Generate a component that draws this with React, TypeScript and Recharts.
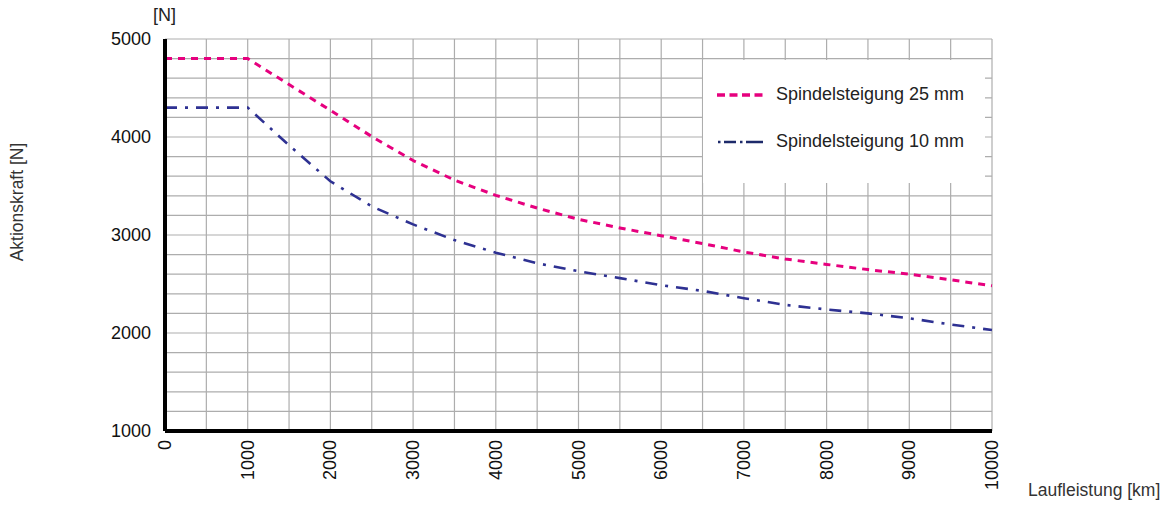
import { CartesianGrid, Legend, Line, LineChart, XAxis, YAxis } from "recharts";

const km = [0, 500, 1000, 1500, 2000, 2500, 3000, 3500, 4000, 4500, 5000, 5500, 6000, 6500, 7000, 7500, 8000, 8500, 9000, 9500, 10000];
const force25 = [4800, 4800, 4800, 4535, 4272, 4005, 3760, 3560, 3405, 3275, 3160, 3072, 2993, 2913, 2827, 2755, 2700, 2647, 2600, 2543, 2482];
const force10 = [4300, 4300, 4300, 3915, 3548, 3292, 3108, 2948, 2820, 2712, 2630, 2560, 2488, 2430, 2355, 2287, 2240, 2200, 2150, 2087, 2030];
const yTicks = [1000, 1200, 1400, 1600, 1800, 2000, 2200, 2400, 2600, 2800, 3000, 3200, 3400, 3600, 3800, 4000, 4200, 4400, 4600, 4800, 5000];

const data = km.map((k, i) => ({ km: k, s25: force25[i], s10: force10[i] }));

const FONT = "'Liberation Sans', Arial, Helvetica, sans-serif";
const PINK = "#E6007E";
const BLUE = "#2E3192";
const NAVY = "#1d2a6a";

function XTick(props: any) {
  const { x, y, payload } = props;
  if (payload.value % 1000 !== 0) return <g />;
  return (
    <text
      x={x}
      y={y}
      transform={`rotate(-90, ${x}, ${y})`}
      textAnchor="end"
      dominantBaseline="central"
      fontSize={18}
      fontFamily={FONT}
      fill="#111"
    >
      {payload.value}
    </text>
  );
}

function LegendBox() {
  return (
    <div style={{ position: "relative", width: "100%", height: "100%", fontFamily: FONT, fontSize: 18, color: "#222" }}>
      <svg width={60} height={123} style={{ position: "absolute", left: 0, top: 0 }}>
        <line x1={14} y1={35} x2={62} y2={35} stroke={PINK} strokeWidth={3.5} strokeDasharray="8 4.5" />
        <line x1={15} y1={82} x2={62} y2={82} stroke={NAVY} strokeWidth={2.5} strokeDasharray="2.5 3.5 12 4 2.5 3.5 20" />
      </svg>
      <div style={{ position: "absolute", left: 73, top: 24, whiteSpace: "nowrap" }}>Spindelsteigung 25 mm</div>
      <div style={{ position: "absolute", left: 73, top: 71, whiteSpace: "nowrap" }}>Spindelsteigung 10 mm</div>
    </div>
  );
}

export default function App() {
  return (
    <div style={{ position: "absolute", left: 0, top: 0, width: 1168, height: 507, background: "#fff", fontFamily: FONT }}>
      <LineChart width={1168} height={507} data={data} margin={{ top: 39, right: 176, bottom: 0, left: 0 }}>
        <CartesianGrid stroke="#adadad" strokeWidth={1.2} />
        <XAxis
          dataKey="km"
          type="number"
          domain={[0, 10000]}
          ticks={km}
          interval={0}
          height={76}
          tickLine={false}
          tickSize={0}
          tickMargin={9}
          axisLine={{ stroke: "#000", strokeWidth: 4 }}
          tick={<XTick />}
        />
        <YAxis
          type="number"
          domain={[1000, 5000]}
          ticks={yTicks}
          interval={0}
          width={165}
          tickLine={false}
          tickSize={0}
          tickMargin={14}
          axisLine={{ stroke: "#000", strokeWidth: 4 }}
          tick={{ fontSize: 18, fontFamily: FONT, fill: "#111" }}
          tickFormatter={(v: number) => (v % 1000 === 0 ? String(v) : "")}
        />
        <Legend
          layout="horizontal"
          align="center"
          verticalAlign="middle"
          content={<LegendBox />}
          wrapperStyle={{ left: 703, top: 60, width: 282, height: 123, background: "#fff" }}
        />
        <Line
          dataKey="s25"
          name="Spindelsteigung 25 mm"
          type="linear"
          stroke={PINK}
          strokeWidth={3}
          strokeDasharray="7 6"
          dot={false}
          activeDot={false}
          isAnimationActive={false}
        />
        <Line
          dataKey="s10"
          name="Spindelsteigung 10 mm"
          type="linear"
          stroke={BLUE}
          strokeWidth={2.6}
          strokeDasharray="12 8 3 8"
          dot={false}
          activeDot={false}
          isAnimationActive={false}
        />
      </LineChart>
      <div style={{ position: "absolute", left: 153, top: 5, fontSize: 18, color: "#222" }}>[N]</div>
      <div style={{ position: "absolute", left: 1028, top: 480, fontSize: 17.5, color: "#333", whiteSpace: "nowrap" }}>
        Laufleistung [km]
      </div>
      <div
        style={{
          position: "absolute",
          left: 17,
          top: 202,
          fontSize: 17.5,
          color: "#333",
          whiteSpace: "nowrap",
          transform: "translate(-50%, -50%) rotate(-90deg)",
        }}
      >
        Aktionskraft [N]
      </div>
    </div>
  );
}
